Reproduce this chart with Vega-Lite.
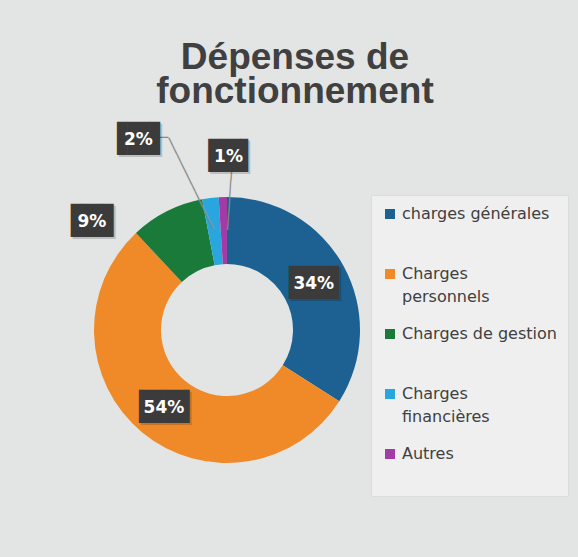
{
  "$schema": "https://vega.github.io/schema/vega-lite/v6.json",
  "autosize": {"type": "none"},
  "padding": {"left": 77, "top": 195, "right": 201, "bottom": 92},
  "width": 300,
  "height": 270,
  "background": "#e3e4e4",
  "config": {"view": {"stroke": null}, "style": {"guide-label": {"lineHeight": 23}}},
  "title": {
    "text": ["Dépenses de", "fonctionnement"],
    "font": "Liberation Sans", "fontSize": 37, "fontWeight": "bold", "color": "#404040",
    "lineHeight": 34, "anchor": "middle", "frame": "group", "dx": 68, "offset": 8
  },
  "data": {"values": [
    {"cat": "charges générales", "value": 34, "label": "34%", "ord": 1},
    {"cat": "Charges personnels", "value": 54, "label": "54%", "ord": 2},
    {"cat": "Charges de gestion", "value": 9, "label": "9%", "ord": 3},
    {"cat": "Charges financières", "value": 2, "label": "2%", "ord": 4},
    {"cat": "Autres", "value": 1, "label": "1%", "ord": 5}
  ]},
  "encoding": {
    "theta": {"field": "value", "type": "quantitative", "stack": true},
    "order": {"field": "ord", "type": "quantitative"}
  },
  "layer": [
    {
      "mark": {"type": "arc", "innerRadius": 66, "outerRadius": 133},
      "encoding": {
        "color": {
          "field": "cat", "type": "nominal",
          "scale": {
            "domain": ["charges générales", "Charges personnels", "Charges de gestion", "Charges financières", "Autres"],
            "range": ["#1c6191", "#f08a28", "#197a39", "#2aa6df", "#a23ba6"]
          },
          "legend": {
            "title": null, "orient": "right", "offset": -6, "padding": 11,
            "fillColor": "#efefef", "strokeColor": "#dcdcdc",
            "symbolType": "square", "symbolSize": 100, "symbolStrokeWidth": 0,
            "labelFont": "DejaVu Sans", "labelFontSize": 16, "labelColor": "#404040",
            "labelOffset": 4, "rowPadding": 21, "gridAlign": "all", "labelLimit": 300,
            "labelExpr": "datum.label == 'Charges personnels' ? ['Charges', 'personnels'] : datum.label == 'Charges financières' ? ['Charges', 'financières'] : datum.label == 'Autres' ? ['Autres', ' '] : datum.label"
          }
        }
      }
    },
    {
      "mark": {"type": "text", "radius": 129.1, "thetaOffset": 0.0445, "angle": 93.9, "font": "DejaVu Sans", "fontSize": 13.8, "color": "#8a8a8a", "align": "center", "baseline": "middle"},
      "encoding": {
        "detail": {"field": "cat"},
        "text": {"condition": {"test": "datum.ord == 5", "value": "───────"}, "value": ""}
      }
    },
    {
      "mark": {"type": "text", "radius": 150.5, "thetaOffset": -0.1194, "angle": 63.9, "font": "DejaVu Sans", "fontSize": 14.1, "color": "#8a8a8a", "align": "center", "baseline": "middle"},
      "encoding": {
        "detail": {"field": "cat"},
        "text": {"condition": {"test": "datum.ord == 4", "value": "────────────"}, "value": ""}
      }
    },
    {
      "mark": {"type": "text", "radius": 202, "thetaOffset": -0.1913, "font": "DejaVu Sans", "fontSize": 14, "color": "#8a8a8a", "align": "center", "baseline": "middle"},
      "encoding": {
        "detail": {"field": "cat"},
        "text": {"condition": {"test": "datum.ord == 4", "value": "─"}, "value": ""}
      }
    },
    {
      "mark": {"type": "text", "radius": 99, "dx": 1, "dy": 4, "font": "DejaVu Sans", "fontSize": 28, "color": "#000000", "opacity": 0.16, "align": "center", "baseline": "middle"},
      "encoding": {
        "detail": {"field": "cat"},
        "text": {"condition": {"test": "datum.ord <= 2", "value": "▕██▎"}, "value": ""}
      }
    },
    {
      "mark": {"type": "text", "radius": 173.5, "thetaOffset": -0.421, "dx": 2, "dy": 3, "font": "DejaVu Sans", "fontSize": 28, "color": "#000000", "opacity": 0.16, "align": "center", "baseline": "middle"},
      "encoding": {
        "detail": {"field": "cat"},
        "text": {"condition": {"test": "datum.ord == 3", "value": "▐█▌"}, "value": ""}
      }
    },
    {
      "mark": {"type": "text", "radius": 210.4, "thetaOffset": -0.309, "dx": 2, "dy": 3, "font": "DejaVu Sans", "fontSize": 28, "color": "#000000", "opacity": 0.16, "align": "center", "baseline": "middle"},
      "encoding": {
        "detail": {"field": "cat"},
        "text": {"condition": {"test": "datum.ord == 4", "value": "▐█▌"}, "value": ""}
      }
    },
    {
      "mark": {"type": "text", "radius": 173.8, "thetaOffset": 0.04, "dx": 3, "dy": 3, "font": "DejaVu Sans", "fontSize": 28, "color": "#000000", "opacity": 0.16, "align": "center", "baseline": "middle"},
      "encoding": {
        "detail": {"field": "cat"},
        "text": {"condition": {"test": "datum.ord == 5", "value": "▐█▍"}, "value": ""}
      }
    },
    {
      "mark": {"type": "text", "radius": 99, "dx": -1, "dy": 2, "font": "DejaVu Sans", "fontSize": 28, "color": "#3b3b3b", "align": "center", "baseline": "middle"},
      "encoding": {
        "detail": {"field": "cat"},
        "text": {"condition": {"test": "datum.ord <= 2", "value": "▕██▎"}, "value": ""}
      }
    },
    {
      "mark": {"type": "text", "radius": 173.5, "thetaOffset": -0.421, "dy": 1, "font": "DejaVu Sans", "fontSize": 28, "color": "#3b3b3b", "align": "center", "baseline": "middle"},
      "encoding": {
        "detail": {"field": "cat"},
        "text": {"condition": {"test": "datum.ord == 3", "value": "▐█▌"}, "value": ""}
      }
    },
    {
      "mark": {"type": "text", "radius": 210.4, "thetaOffset": -0.309, "dy": 1, "font": "DejaVu Sans", "fontSize": 28, "color": "#3b3b3b", "align": "center", "baseline": "middle"},
      "encoding": {
        "detail": {"field": "cat"},
        "text": {"condition": {"test": "datum.ord == 4", "value": "▐█▌"}, "value": ""}
      }
    },
    {
      "mark": {"type": "text", "radius": 173.8, "thetaOffset": 0.04, "dx": 1, "dy": 1, "font": "DejaVu Sans", "fontSize": 28, "color": "#3b3b3b", "align": "center", "baseline": "middle"},
      "encoding": {
        "detail": {"field": "cat"},
        "text": {"condition": {"test": "datum.ord == 5", "value": "▐█▍"}, "value": ""}
      }
    },
    {
      "mark": {"type": "text", "radius": 99, "dy": 2, "font": "DejaVu Sans", "fontSize": 17, "fontWeight": "bold", "color": "#ffffff", "align": "center", "baseline": "middle"},
      "encoding": {
        "detail": {"field": "cat"},
        "text": {"condition": {"test": "datum.ord <= 2", "field": "label", "type": "nominal"}, "value": ""}
      }
    },
    {
      "mark": {"type": "text", "radius": 173.5, "thetaOffset": -0.421, "dy": 1, "font": "DejaVu Sans", "fontSize": 17, "fontWeight": "bold", "color": "#ffffff", "align": "center", "baseline": "middle"},
      "encoding": {
        "detail": {"field": "cat"},
        "text": {"condition": {"test": "datum.ord == 3", "field": "label", "type": "nominal"}, "value": ""}
      }
    },
    {
      "mark": {"type": "text", "radius": 210.4, "thetaOffset": -0.309, "dy": 1, "font": "DejaVu Sans", "fontSize": 17, "fontWeight": "bold", "color": "#ffffff", "align": "center", "baseline": "middle"},
      "encoding": {
        "detail": {"field": "cat"},
        "text": {"condition": {"test": "datum.ord == 4", "field": "label", "type": "nominal"}, "value": ""}
      }
    },
    {
      "mark": {"type": "text", "radius": 173.8, "thetaOffset": 0.04, "dy": 1, "font": "DejaVu Sans", "fontSize": 17, "fontWeight": "bold", "color": "#ffffff", "align": "center", "baseline": "middle"},
      "encoding": {
        "detail": {"field": "cat"},
        "text": {"condition": {"test": "datum.ord == 5", "field": "label", "type": "nominal"}, "value": ""}
      }
    }
  ]
}
